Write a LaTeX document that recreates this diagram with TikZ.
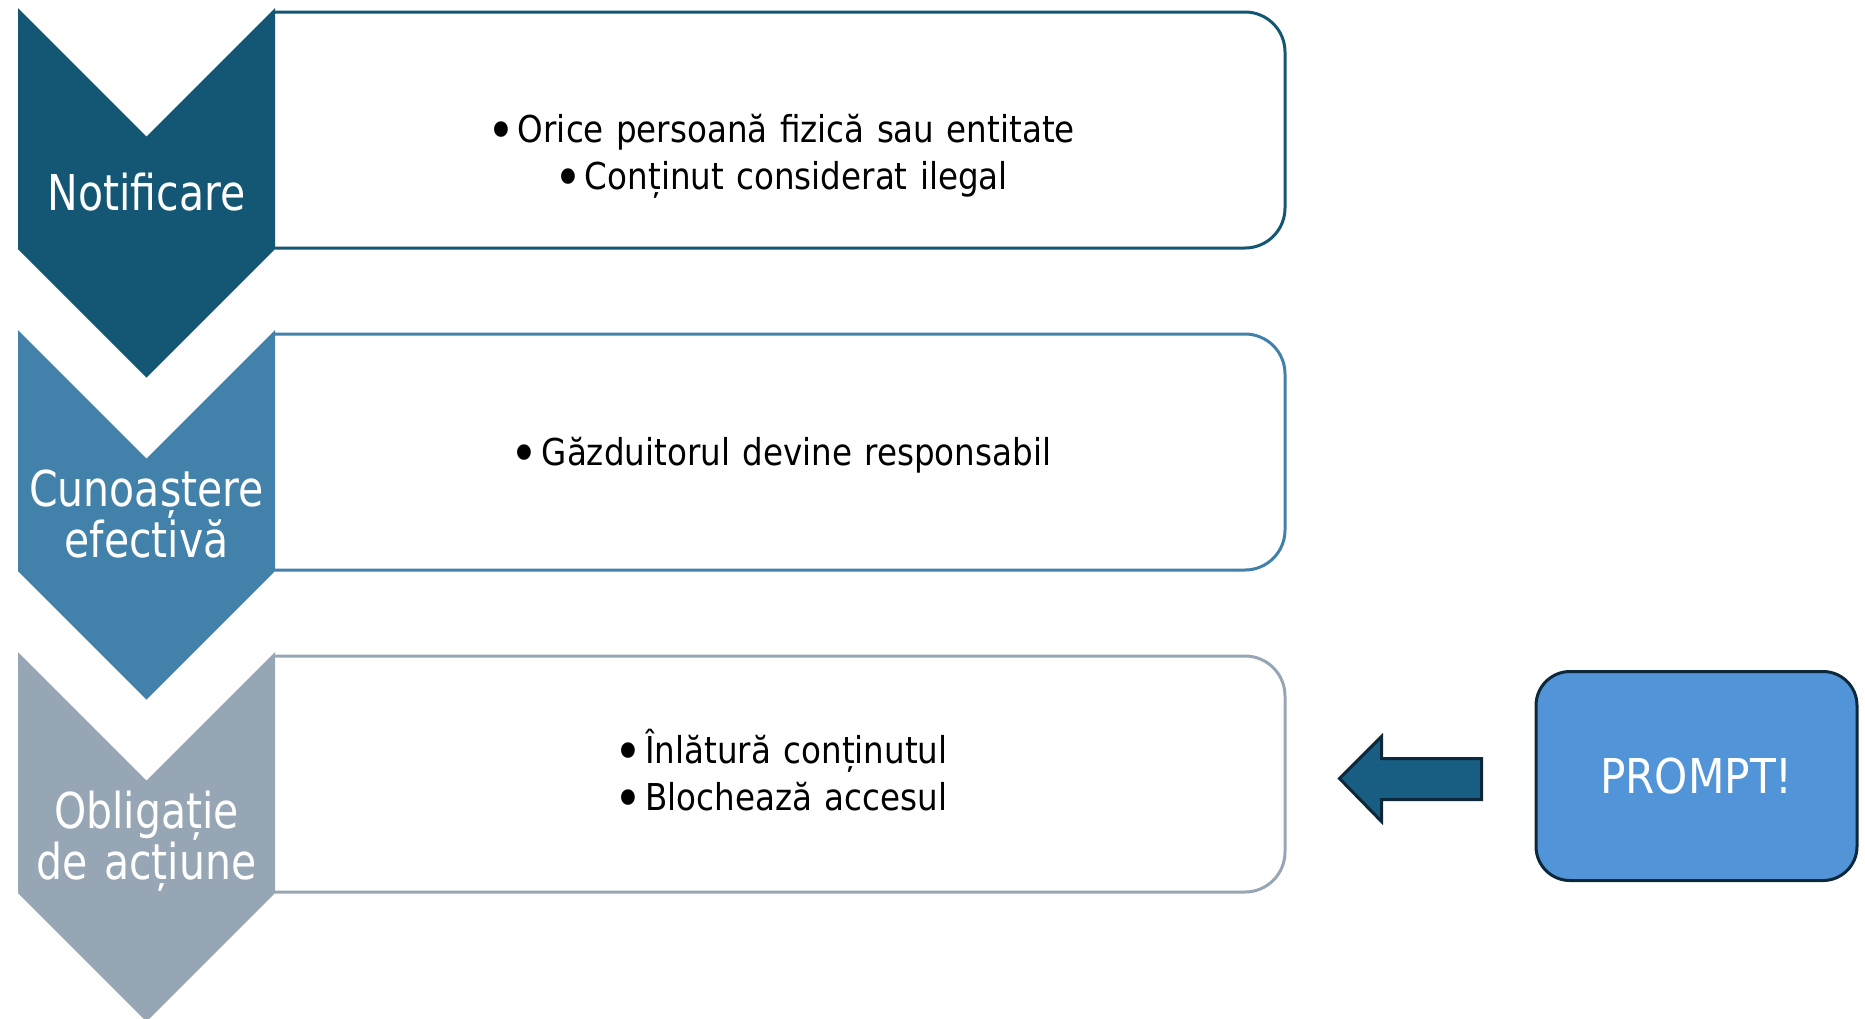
\documentclass[tikz,border=0pt]{standalone}
\usepackage{fontspec}
\setmainfont{DejaVu Sans}[FakeStretch=0.88]
\newfontfamily\chevfont{DejaVu Sans}[FakeStretch=0.83]
\newcommand{\mybul}{\smash{\raisebox{-7.5pt}{\scalebox{1.45}{•}}}\hspace{3pt}}
\definecolor{cone}{RGB}{20,87,116}
\definecolor{ctwo}{RGB}{66,129,170}
\definecolor{cthree}{RGB}{151,166,180}
\definecolor{arrowfill}{RGB}{23,94,130}
\definecolor{darkline}{RGB}{12,40,58}
\definecolor{promptfill}{RGB}{81,149,216}
\begin{document}
\begin{tikzpicture}[x=1pt,y=-1pt,
  boxline/.style={line width=3pt, rounded corners=40pt},
  chevtext/.style={text=white, font=\chevfont\fontsize{49.4}{51}\selectfont,
    text width=258pt, align=center, anchor=base, inner sep=0pt},
  bodytext/.style={text=black, font=\fontsize{37}{47}\selectfont,
    text width=1000pt, align=center, anchor=base, inner sep=0pt},
  promptbox/.style={draw=darkline, line width=3pt, fill=promptfill,
    rounded corners=34pt, minimum width=321pt, minimum height=209pt,
    text=white, font=\fontsize{48}{56}\selectfont},
  blockarrow/.style={fill=arrowfill, draw=darkline, line width=3pt}]
\fill[white] (0,0) rectangle (1865,1018);
\useasboundingbox (0,0) rectangle (1865,1018);
% boxes (open on the left, hidden by chevrons)
\foreach \t/\c in {8/cone,330/ctwo,652/cthree}{
  \draw[boxline, draw=\c] (275,\t+4) -- (1285,\t+4) -- (1285,\t+240) -- (275,\t+240);
  \fill[\c] (18,\t) -- (146.5,\t+128.5) -- (275,\t) -- (275,\t+241)
    -- (146.5,\t+369.5) -- (18,\t+241) -- cycle;
}
% chevron labels
\node[chevtext] (c1) at (146.5,210) {Notificare};
\node[chevtext] (c2) at (146.5,506) {Cunoaștere\\efectivă};
\node[chevtext] (c3) at (146.5,828) {Obligație\\de acțiune};
% box texts
\node[bodytext] (t1) at (781,142) {\mybul Orice persoană fizică sau entitate\\\mybul Conținut considerat ilegal};
\node[bodytext] (t2) at (781,465) {\mybul Găzduitorul devine responsabil};
\node[bodytext] (t3) at (781,763) {\mybul Înlătură conținutul\\\mybul Blochează accesul};
% prompt box and arrow
\node[promptbox] (p) at (1696.5,776) {PROMPT!};
\draw[blockarrow] (1339.5,778.5) -- (1381.5,736.5) -- (1381.5,758.5) -- (1481.5,758.5)
  -- (1481.5,799.5) -- (1381.5,799.5) -- (1381.5,821.5) -- cycle;
\end{tikzpicture}
\end{document}
